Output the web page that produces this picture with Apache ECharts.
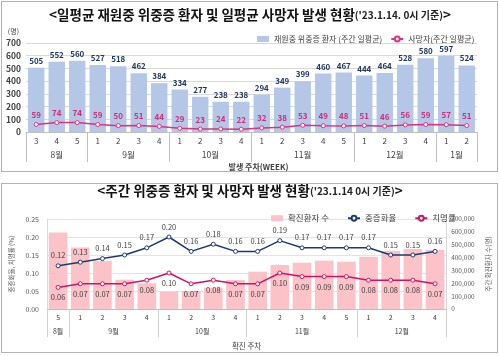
<!DOCTYPE html>
<html><head><meta charset="utf-8">
<script src="https://cdn.jsdelivr.net/npm/echarts@6/dist/echarts.min.js"></script>
<style>html,body{margin:0;padding:0;background:#fff}#c{width:500px;height:356px}</style>
</head><body><div id="c"></div>
<script>
// ---- Top chart data ----
const weeks1 = ['3','4','5','1','2','3','4','1','2','3','4','1','2','3','4','5','1','2','3','4','1','2'];
const months1 = ['8월','9월','10월','11월','12월','1월'];
const monthWeeks1 = [3,4,4,5,4,2];
const inpatients = [505,552,560,527,518,462,384,334,277,238,238,294,349,399,460,467,444,464,528,580,597,524];
const deaths = [59,74,74,59,50,51,44,29,23,24,22,32,38,53,49,48,51,46,56,59,57,51];
const yTicks1 = [0,100,200,300,400,500,600,700];

// ---- Bottom chart data ----
const weeks2 = ['5','1','2','3','4','1','2','3','4','1','2','3','4','5','1','2','3','4'];
const months2 = ['8월','9월','10월','11월','12월'];
const monthWeeks2 = [1,4,4,5,4];
const cases = [595000,478000,373000,228000,200000,135000,140000,166000,226000,290000,342000,360000,376000,368000,407000,451000,467000,459000];
const severeRate = [0.12,0.13,0.14,0.15,0.17,0.20,0.16,0.18,0.16,0.16,0.19,0.17,0.17,0.17,0.17,0.15,0.15,0.16];
const fatalityRate = [0.06,0.07,0.07,0.07,0.08,0.10,0.07,0.08,0.07,0.07,0.10,0.09,0.09,0.09,0.08,0.08,0.08,0.07];

function bounds(groups){const b=[0];groups.forEach(g=>b.push(b[b.length-1]+g));return b;}
function centers(b){const c=[];for(let i=0;i<b.length-1;i++)c.push((b[i]+b[i+1])/2);return c;}
const b1=bounds(monthWeeks1), c1=centers(b1);
const b2=bounds(monthWeeks2), c2=centers(b2);

const FONT='"Noto Sans CJK KR", "Noto Sans", sans-serif';
const chart=echarts.init(document.getElementById('c'),null,{renderer:'canvas'});
const gridLine={lineStyle:{color:'#D9D9D9',width:1}};

chart.setOption({
  textStyle:{fontFamily:FONT},
  animation:false,
  title:[
    {text:'{a|<일평균 재원중 위중증 환자 및 일평균 사망자 발생 현황}{b|(\'23.1.14. 0시 기준)}{a|>}',left:'center',top:3,
     textStyle:{rich:{a:{fontSize:13.5,fontWeight:'bold',color:'#111',fontFamily:FONT},b:{fontSize:10,color:'#222',fontFamily:FONT}}}},
    {text:'{a|<주간 위중증 환자 및 사망자 발생 현황}{b|(\'23.1.14 0시 기준)}{a|>}',left:'center',top:179,
     textStyle:{rich:{a:{fontSize:13.5,fontWeight:'bold',color:'#111',fontFamily:FONT},b:{fontSize:10,color:'#222',fontFamily:FONT}}}}
  ],
  legend:[
    {data:[{name:'재원중 위중증 환자 (주간 일평균)',icon:'rect'},{name:'사망자(주간 일평균)'}],
     left:252,top:30,itemWidth:12,itemHeight:6,itemGap:8,textStyle:{fontSize:8,color:'#404040',fontFamily:FONT}},
    {data:[{name:'확진환자 수',icon:'rect'},{name:'중증화율'},{name:'치명률'}],
     left:266,top:209,itemWidth:12,itemHeight:6,itemGap:18,textStyle:{fontSize:8.5,color:'#404040',fontFamily:FONT}}
  ],
  grid:[
    {left:26,right:23,top:43,bottom:224},
    {left:40,right:52.5,top:219,bottom:47}
  ],
  xAxis:[
    {type:'category',gridIndex:0,data:weeks1,axisLine:{lineStyle:{color:'#BFBFBF'}},axisTick:{show:false},
     axisLabel:{fontSize:8,color:'#404040',margin:5}},
    {type:'value',gridIndex:0,min:0,max:b1[b1.length-1],position:'bottom',axisLine:{show:false},splitLine:{show:false},
     axisTick:{show:true,customValues:b1,length:30,lineStyle:{color:'#BFBFBF'}},
     axisLabel:{customValues:c1,fontSize:8.5,color:'#404040',margin:19,formatter:v=>months1[c1.indexOf(v)]||''},
     name:'발생 주차(WEEK)',nameLocation:'middle',nameGap:31,nameTextStyle:{fontSize:8,color:'#404040',fontWeight:'bold',padding:[0,0,0,14]}},
    {type:'category',gridIndex:1,data:weeks2,axisLine:{lineStyle:{color:'#BFBFBF'}},axisTick:{show:false},
     axisLabel:{fontSize:7,color:'#404040',margin:5}},
    {type:'value',gridIndex:1,min:0,max:b2[b2.length-1],position:'bottom',axisLine:{show:false},splitLine:{show:false},
     axisTick:{show:true,customValues:b2,length:28,lineStyle:{color:'#D0D0D0'}},
     axisLabel:{customValues:c2,fontSize:7,color:'#404040',margin:19,formatter:v=>months2[c2.indexOf(v)]||''},
     name:'확진 주차',nameLocation:'middle',nameGap:33,nameTextStyle:{fontSize:7.5,color:'#404040'}}
  ],
  yAxis:[
    {type:'value',gridIndex:0,min:yTicks1[0],max:yTicks1[yTicks1.length-1],interval:100,
     axisLine:{show:false},axisTick:{show:false},splitLine:gridLine,
     axisLabel:{fontSize:8.5,color:'#404040',fontWeight:'bold',margin:5},
     name:'(명)',nameTextStyle:{fontSize:7,color:'#404040',align:'right',padding:[0,7,0,0]},nameGap:8},
    {type:'value',gridIndex:1,min:0,max:0.25,interval:0.05,
     axisLine:{show:true,lineStyle:{color:'#D9D9D9'}},axisTick:{show:false},splitLine:{lineStyle:{color:'#E3E3E3'}},
     axisLabel:{fontSize:7,color:'#595959',margin:8,formatter:v=>v.toFixed(2)},
     name:'중증화율, 치명률 (%)',nameLocation:'middle',nameRotate:90,nameGap:30,nameTextStyle:{fontSize:6.5,color:'#595959'}},
    {type:'value',gridIndex:1,min:0,max:700000,interval:100000,position:'right',
     axisLine:{show:true,lineStyle:{color:'#D9D9D9'}},axisTick:{show:false},splitLine:{show:false},
     axisLabel:{fontSize:6.5,color:'#595959',margin:5,formatter:v=>v.toLocaleString('en-US')},
     name:'주간 확진환자 수(명)',nameLocation:'middle',nameRotate:90,nameGap:33,nameTextStyle:{fontSize:6.5,color:'#595959'}}
  ],
  series:[
    {name:'재원중 위중증 환자 (주간 일평균)',type:'bar',xAxisIndex:0,yAxisIndex:0,data:inpatients,barCategoryGap:'20%',
     itemStyle:{color:'#B4C7E7'},label:{show:true,position:'top',distance:3,fontSize:8,fontWeight:'bold',color:'#203864'}},
    {name:'사망자(주간 일평균)',type:'line',xAxisIndex:0,yAxisIndex:0,data:deaths,symbol:'circle',symbolSize:4,
     lineStyle:{color:'#E0307F',width:1.5},itemStyle:{color:'#fff',borderColor:'#E0307F',borderWidth:1},
     label:{show:true,position:'top',distance:3,fontSize:8,fontWeight:'bold',color:'#D02C78'}},
    {name:'확진환자 수',type:'bar',xAxisIndex:2,yAxisIndex:2,data:cases,barCategoryGap:'16%',
     itemStyle:{color:'#FBC2C8'}},
    {name:'중증화율',type:'line',xAxisIndex:2,yAxisIndex:1,data:severeRate,symbol:'circle',symbolSize:4,
     lineStyle:{color:'#1F3B6E',width:1.5},itemStyle:{color:'#fff',borderColor:'#1F3B6E',borderWidth:1},
     label:{show:true,position:'top',distance:4,fontSize:7.5,color:'#404040',formatter:p=>p.value.toFixed(2)}},
    {name:'치명률',type:'line',xAxisIndex:2,yAxisIndex:1,data:fatalityRate,symbol:'circle',symbolSize:4,
     lineStyle:{color:'#CC1466',width:1.5},itemStyle:{color:'#fff',borderColor:'#CC1466',borderWidth:1},
     label:{show:true,position:'bottom',distance:4,fontSize:7.5,color:'#404040',formatter:p=>p.value.toFixed(2)}}
  ],
  graphic:[
    {type:'rect',shape:{x:1.5,y:1.5,width:496,height:170},style:{fill:'none',stroke:'#666',lineWidth:1,lineDash:[1,1]},silent:true,z:-1},
    {type:'rect',shape:{x:1.5,y:183.5,width:496,height:169},style:{fill:'none',stroke:'#666',lineWidth:1,lineDash:[1,1]},silent:true,z:-1}
  ]
});
</script></body></html>
